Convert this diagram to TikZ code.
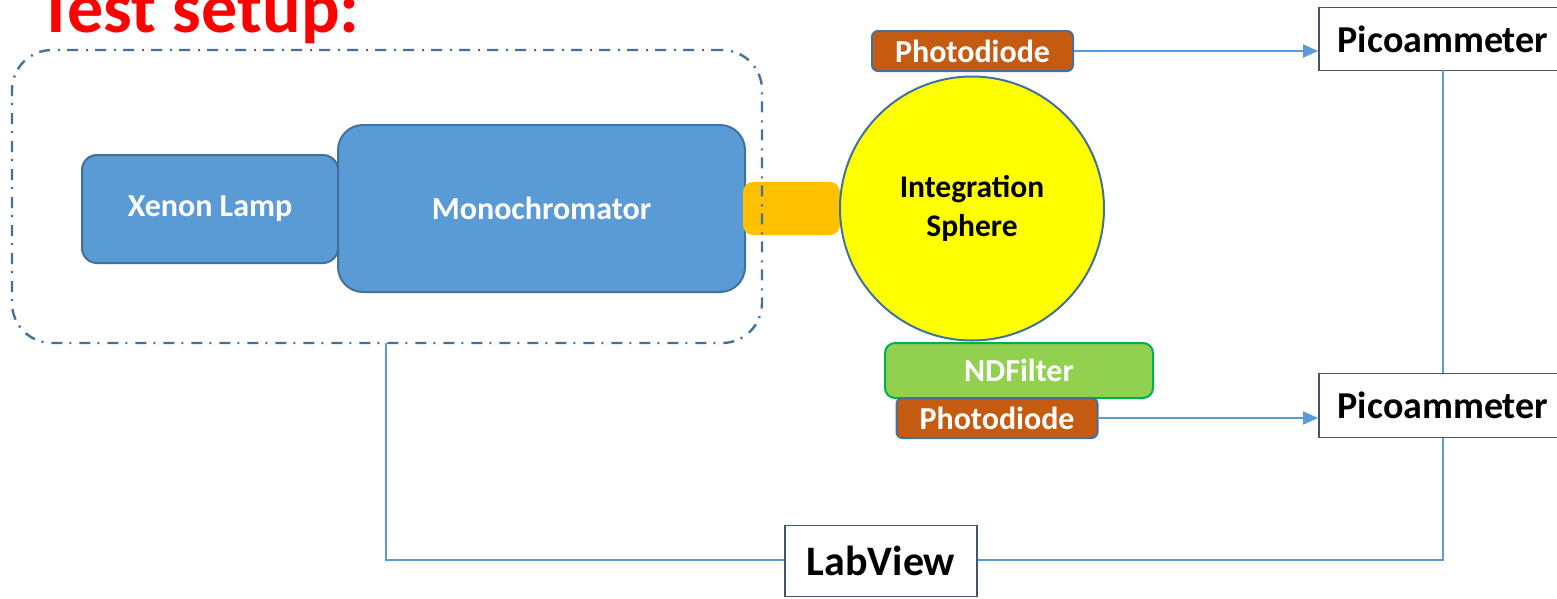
\documentclass[tikz,border=0pt]{standalone}
\usepackage{fontspec}
\setmainfont{Carlito}
\usetikzlibrary{arrows.meta}
\definecolor{boxblue}{HTML}{5B9BD5}
\definecolor{edgeblue}{HTML}{41719C}
\definecolor{diodeorange}{HTML}{C55A11}
\definecolor{portorange}{HTML}{FFC000}
\definecolor{filtergreen}{HTML}{92D050}
\definecolor{filteredge}{HTML}{00B050}
\definecolor{boxgray}{HTML}{44546A}
\definecolor{sphereyellow}{HTML}{FFFF00}
\definecolor{titlered}{HTML}{FF0000}
\tikzset{
  bluebox/.style={draw=edgeblue, line width=2pt, fill=boxblue, rounded corners=#1, text=white, font=\bfseries\fontsize{32}{36}\selectfont, inner sep=0pt},
  diodebox/.style={draw=edgeblue, line width=2pt, fill=diodeorange, rounded corners=6pt, text=white, font=\bfseries\fontsize{32}{36}\selectfont, inner sep=0pt, minimum width=201pt, minimum height=40pt},
  whitebox/.style={draw=boxgray, line width=1.8pt, fill=white, text=black, inner sep=0pt},
  wire/.style={draw=boxblue, line width=1.6pt},
  arrowwire/.style={wire, -{Triangle[length=15pt,width=13pt]}},
}
\begin{document}
\begin{tikzpicture}[x=1pt,y=-1pt]
\useasboundingbox (0,0) rectangle (1557,598);
% title
\node[anchor=base west, inner sep=0pt, text=titlered, font=\bfseries\fontsize{72}{76}\selectfont] (title) at (38,32) {Test setup:};
% boxes
\node[bluebox=15pt, minimum width=256pt, minimum height=108pt] (lamp) at (210,209) {Xenon Lamp};
\node[bluebox=25pt, minimum width=407pt, minimum height=167pt] (mono) at (541.5,208.5) {Monochromator};
\node[fill=portorange, rounded corners=10pt, minimum width=97pt, minimum height=53pt, inner sep=0pt] (port) at (791.5,208.5) {};
\node[circle, draw=edgeblue, line width=2pt, fill=sphereyellow, minimum size=264pt, inner sep=0pt, align=center, font=\bfseries\fontsize{31.5}{39}\selectfont] (sphere) at (972,208.5) {Integration\\Sphere};
% dash-dot enclosure
\node[draw=edgeblue, line width=2.4pt, rounded corners=40pt, dash pattern=on 11pt off 7pt on 2pt off 8pt, minimum width=750pt, minimum height=293pt, inner sep=0pt] (enclosure) at (387,196.5) {};
% photodiodes and filter
\node[diodebox] (pd1) at (972.5,51) {Photodiode};
\node[draw=filteredge, line width=2pt, fill=filtergreen, rounded corners=10pt, minimum width=268pt, minimum height=55pt, inner sep=0pt, text=white, font=\bfseries\fontsize{32}{36}\selectfont] (nd) at (1019,370.5) {NDFilter};
\node[diodebox] (pd2) at (997,418) {Photodiode};
% instruments
\node[whitebox, minimum width=248pt, minimum height=63pt, font=\bfseries\fontsize{38}{42}\selectfont] (pico1) at (1443,39) {Picoammeter};
\node[whitebox, minimum width=248pt, minimum height=64pt, font=\bfseries\fontsize{38}{42}\selectfont] (pico2) at (1443,405.5) {Picoammeter};
\node[whitebox, minimum width=192pt, minimum height=71pt, font=\bfseries\fontsize{42}{46}\selectfont] (lab) at (881,561) {LabView};
% connectors
\coordinate (p1b) at (1443,70);
\coordinate (p2t) at (1443,373);
\coordinate (p2b) at (1443,438);
\coordinate (corner1) at (1443,560);
\coordinate (corner2) at (386,560);
\coordinate (encb) at (386,343);
\draw[arrowwire] (pd1.east) -- (pd1.east -| pico1.west);
\draw[arrowwire] (pd2.east) -- (pd2.east -| pico2.west);
\draw[wire] (p1b) -- (p2t);
\draw[wire] (p2b) -- (corner1) -- (lab.east |- corner1);
\draw[wire] (lab.west |- corner2) -- (corner2) -- (encb);
\end{tikzpicture}
\end{document}
